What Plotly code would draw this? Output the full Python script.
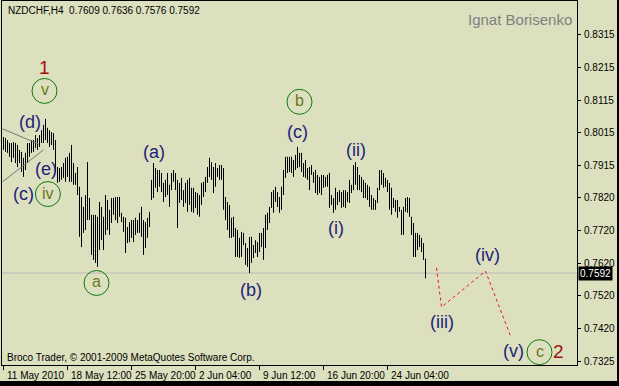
import plotly.graph_objects as go

# ---------------- data ----------------
symbol_title = "NZDCHF,H4  0.7609 0.7636 0.7576 0.7592"
last_price = 0.7592

highs = [
0.8005,0.8002,0.7996,0.7987,0.7987,0.7990,0.7987,0.7981,0.7966,0.7960,
0.7942,0.7957,0.7987,0.7987,0.7996,0.7996,0.8011,0.8002,0.8011,0.8026,
0.8042,0.8060,0.8033,0.8026,0.8020,0.8017,0.7996,0.7914,0.7911,0.7914,
0.7926,0.7942,0.7945,0.7957,0.7981,0.7926,0.7896,0.7914,0.7854,0.7823,
0.7793,0.7829,0.7929,0.7820,0.7769,0.7769,0.7769,0.7763,0.7808,0.7793,
0.7763,0.7829,0.7814,0.7784,0.7820,0.7820,0.7823,0.7823,0.7823,0.7775,
0.7763,0.7760,0.7732,0.7747,0.7753,0.7753,0.7760,0.7753,0.7775,0.7793,
0.7753,0.7747,0.7760,0.7778,0.7875,0.7926,0.7911,0.7905,0.7905,0.7896,
0.7866,0.7875,0.7896,0.7860,0.7896,0.7905,0.7896,0.7875,0.7866,0.7881,
0.7844,0.7866,0.7875,0.7881,0.7851,0.7851,0.7838,0.7835,0.7829,0.7866,
0.7869,0.7884,0.7914,0.7942,0.7929,0.7914,0.7926,0.7911,0.7920,0.7920,
0.7911,0.7823,0.7808,0.7799,0.7760,0.7763,0.7729,0.7723,0.7699,0.7717,
0.7714,0.7683,0.7668,0.7702,0.7702,0.7677,0.7692,0.7686,0.7714,0.7714,
0.7729,0.7769,0.7775,0.7793,0.7838,0.7844,0.7854,0.7838,0.7823,0.7854,
0.7905,0.7945,0.7945,0.7945,0.7945,0.7935,0.7951,0.7975,0.7957,0.7957,
0.7926,0.7935,0.7911,0.7914,0.7920,0.7899,0.7905,0.7890,0.7884,0.7890,
0.7890,0.7884,0.7890,0.7896,0.7829,0.7820,0.7851,0.7838,0.7844,0.7838,
0.7844,0.7844,0.7838,0.7875,0.7860,0.7920,0.7929,0.7914,0.7890,0.7884,
0.7875,0.7866,0.7860,0.7854,0.7829,0.7820,0.7814,0.7851,0.7905,0.7905,
0.7896,0.7881,0.7875,0.7866,0.7851,0.7820,0.7814,0.7814,0.7793,0.7784,
0.7793,0.7820,0.7823,0.7820,0.7763,0.7744,0.7714,0.7714,0.7708,0.7699,
0.7683,0.7636]

lows = [
0.7966,0.7960,0.7957,0.7945,0.7929,0.7942,0.7926,0.7914,0.7926,0.7899,
0.7884,0.7905,0.7926,0.7945,0.7957,0.7960,0.7972,0.7966,0.7975,0.7987,
0.7987,0.7996,0.7987,0.7975,0.7981,0.7966,0.7899,0.7866,0.7869,0.7875,
0.7881,0.7869,0.7884,0.7869,0.7869,0.7860,0.7860,0.7829,0.7702,0.7671,
0.7714,0.7723,0.7753,0.7753,0.7647,0.7632,0.7623,0.7611,0.7662,0.7692,
0.7662,0.7708,0.7723,0.7708,0.7744,0.7769,0.7753,0.7744,0.7763,0.7747,
0.7717,0.7653,0.7683,0.7686,0.7699,0.7686,0.7708,0.7714,0.7714,0.7702,
0.7647,0.7668,0.7699,0.7732,0.7814,0.7820,0.7851,0.7838,0.7854,0.7838,
0.7808,0.7823,0.7829,0.7793,0.7844,0.7869,0.7844,0.7729,0.7805,0.7814,
0.7793,0.7805,0.7778,0.7799,0.7778,0.7775,0.7790,0.7769,0.7763,0.7799,
0.7823,0.7838,0.7866,0.7884,0.7875,0.7835,0.7854,0.7884,0.7875,0.7875,
0.7784,0.7753,0.7723,0.7699,0.7699,0.7702,0.7641,0.7641,0.7638,0.7641,
0.7677,0.7617,0.7611,0.7592,0.7623,0.7638,0.7653,0.7641,0.7656,0.7671,
0.7632,0.7668,0.7723,0.7744,0.7790,0.7775,0.7808,0.7793,0.7775,0.7784,
0.7829,0.7881,0.7896,0.7899,0.7896,0.7884,0.7905,0.7911,0.7914,0.7899,
0.7884,0.7881,0.7875,0.7844,0.7890,0.7866,0.7835,0.7829,0.7835,0.7829,
0.7851,0.7854,0.7854,0.7790,0.7799,0.7775,0.7784,0.7799,0.7808,0.7790,
0.7793,0.7790,0.7808,0.7805,0.7835,0.7844,0.7860,0.7844,0.7844,0.7838,
0.7820,0.7820,0.7814,0.7793,0.7784,0.7784,0.7784,0.7805,0.7844,0.7860,
0.7851,0.7854,0.7838,0.7784,0.7769,0.7790,0.7778,0.7760,0.7778,0.7708,
0.7708,0.7778,0.7775,0.7763,0.7708,0.7641,0.7641,0.7662,0.7671,0.7656,
0.7632,0.7576]

# time axis labels (bar index -> label)
time_tick_bars = [0, 32, 64, 96, 128, 160, 192]
time_tick_labels = ["11 May 2010", "18 May 12:00", "25 May 20:00", "2 Jun 04:00",
                    "9 Jun 12:00", "16 Jun 20:00", "24 Jun 04:00"]

# price axis
price_tick_vals = [0.8315, 0.8216, 0.8117, 0.8018, 0.7919, 0.7820,
                   0.7721, 0.7622, 0.7523, 0.7424, 0.7325]
price_tick_labels = ["0.8315", "0.8215", "0.8115", "0.8015", "0.7915", "0.7820",
                     "0.7720", "0.7620", "0.7520", "0.7420", "0.7325"]

# triangle trend lines (bar index, price)
tri_upper_x = [-0.5, 17.5]
tri_upper_y = [0.8030, 0.7984]
tri_lower_x = [-0.5, 20]
tri_lower_y = [0.7869, 0.7966]

# projected wave path (dotted red)
proj_x = [216.5, 219, 241, 253.5]
proj_y = [0.7608, 0.7489, 0.7598, 0.7401]

# wave labels: (text, bar index, price)
plain_labels = [
    ("(d)", 13, 0.8051), ("(e)", 21, 0.7908), ("(c)", 9.8, 0.7832),
    ("(a)", 75, 0.7960), ("(c)", 147, 0.8020), ("(b)", 123.5, 0.7541),
    ("(ii)", 176, 0.7966), ("(i)", 166, 0.7729), ("(iii)", 219, 0.7443),
    ("(iv)", 242, 0.7647), ("(v)", 255, 0.7355),
]
circled_labels = [
    ("v", 20.5, 0.8145), ("iv", 22.2, 0.7832), ("a", 46.5, 0.7562),
    ("b", 148, 0.8112), ("c", 268, 0.7352),
]
degree_labels = [("1", 20.5, 0.8215), ("2", 277.5, 0.7355)]

# ---------------- figure ----------------
BG = "#DCE0BF"
NAVY = "#22227A"
GREEN = "#0A7A0A"
OLIVE = "#6B7A1A"
RED = "#A01010"
FONT = "Liberation Sans"

W, H = 619, 386
ML, MR, MT, MB = 2, 42, 1, 21
PW, PH = W - ML - MR, H - MT - MB

bx, by = [], []
for i, (h, l) in enumerate(zip(highs, lows)):
    bx += [i, i, None]
    by += [l, h, None]

fig = go.Figure()
fig.add_trace(go.Scatter(x=bx, y=by, mode="lines",
                         line=dict(color="black", width=1),
                         hoverinfo="skip", showlegend=False))
fig.add_trace(go.Scatter(x=tri_upper_x, y=tri_upper_y, mode="lines",
                         line=dict(color="#777777", width=1), showlegend=False))
fig.add_trace(go.Scatter(x=tri_lower_x, y=tri_lower_y, mode="lines",
                         line=dict(color="#777777", width=1), showlegend=False))
fig.add_trace(go.Scatter(x=proj_x, y=proj_y, mode="lines",
                         line=dict(color="#E8102A", width=1, dash="dot"),
                         showlegend=False))

shapes = []
shapes.append(dict(type="line", xref="paper", x0=0, x1=1, yref="y",
                   y0=last_price, y1=last_price,
                   line=dict(color="#BBBBBB", width=1), layer="below"))
for txt, x, y in circled_labels:
    shapes.append(dict(type="circle", xref="x", yref="y", xsizemode="pixel",
                       ysizemode="pixel", xanchor=x, yanchor=y,
                       x0=-12.5, x1=12.5, y0=-12.5, y1=12.5,
                       line=dict(color=GREEN, width=1)))
# dark window edges (bottom band and right strip)
shapes.append(dict(type="rect", xref="paper", yref="paper",
                   x0=-ML / PW, x1=1 + MR / PW, y0=-MB / PH, y1=-16 / PH,
                   fillcolor="black", line=dict(width=0)))
shapes.append(dict(type="rect", xref="paper", yref="paper",
                   x0=1 + 40 / PW, x1=1 + MR / PW, y0=-MB / PH, y1=1 + MT / PH,
                   fillcolor="black", line=dict(width=0)))

annotations = []
for txt, x, y in plain_labels:
    annotations.append(dict(x=x, y=y, text=txt, showarrow=False,
                            font=dict(family=FONT, size=18, color=NAVY)))
for txt, x, y in circled_labels:
    annotations.append(dict(x=x, y=y, text=txt, showarrow=False, yshift=1,
                            font=dict(family=FONT, size=16, color=OLIVE)))
for txt, x, y in degree_labels:
    annotations.append(dict(x=x, y=y, text=txt, showarrow=False,
                            font=dict(family=FONT, size=19, color=RED)))
for b, lab in zip(time_tick_bars, time_tick_labels):
    annotations.append(dict(x=b, xref="x", y=0, yref="paper", text=lab,
                            xanchor="left", yanchor="top", xshift=1, yshift=-3,
                            showarrow=False,
                            font=dict(family=FONT, size=10, color="black")))
for v, lab in zip(price_tick_vals, price_tick_labels):
    annotations.append(dict(x=1, xref="paper", y=v, yref="y", text=lab,
                            xanchor="left", yanchor="middle", xshift=5,
                            showarrow=False,
                            font=dict(family=FONT, size=10, color="black")))
annotations.append(dict(x=0, xref="paper", y=1, yref="paper", text=symbol_title,
                        xanchor="left", yanchor="top", xshift=4, yshift=-2,
                        showarrow=False,
                        font=dict(family=FONT, size=10, color="black")))
annotations.append(dict(x=1, xref="paper", y=1, yref="paper", text="Ignat Borisenko",
                        xanchor="right", yanchor="top", xshift=-3, yshift=-8,
                        showarrow=False,
                        font=dict(family=FONT, size=15, color="#7F7F7F")))
annotations.append(dict(x=0, xref="paper", y=0, yref="paper",
                        text="Broco Trader, © 2001-2009 MetaQuotes Software Corp.",
                        xanchor="left", yanchor="bottom", xshift=3, yshift=0,
                        showarrow=False,
                        font=dict(family=FONT, size=10, color="black")))
annotations.append(dict(x=1, xref="paper", y=last_price, yref="y",
                        text=f"{last_price:.4f}", xanchor="left", yanchor="middle",
                        xshift=1, showarrow=False, bgcolor="black", borderpad=1,
                        font=dict(family=FONT, size=10, color="white")))

fig.update_layout(
    width=W, height=H,
    margin=dict(l=ML, r=MR, t=MT, b=MB),
    paper_bgcolor=BG, plot_bgcolor=BG,
    showlegend=False,
    shapes=shapes, annotations=annotations,
    xaxis=dict(range=[-0.75, 286.75], showgrid=False, zeroline=False,
               showline=True, linecolor="black", linewidth=1, mirror=True,
               tickmode="array", tickvals=time_tick_bars, ticks="outside",
               ticklen=4, tickcolor="black", showticklabels=False),
    yaxis=dict(range=[0.7313, 0.8418], side="right", showgrid=False,
               zeroline=False, showline=True, linecolor="black", linewidth=1,
               mirror=True, tickmode="array", tickvals=price_tick_vals,
               ticks="outside", ticklen=3, tickcolor="black",
               showticklabels=False),
)

fig.write_html("out.html", config={"displayModeBar": False},
               post_script="document.body.style.margin='0';")
